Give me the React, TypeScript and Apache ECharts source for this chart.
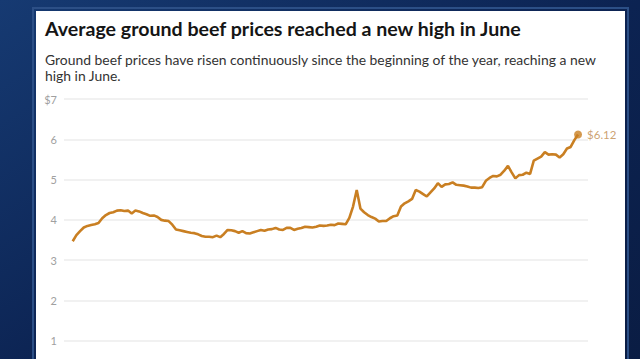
import React, { useEffect, useRef } from "react";
import * as echarts from "echarts";

// Average price of ground beef (USD per lb), monthly from Jan 2014 to Jun 2025
const startYear = 2014;
const prices = [
  3.47, 3.62, 3.72, 3.81, 3.85, 3.87, 3.89, 3.92, 4.04, 4.12, 4.17, 4.19,
  4.23, 4.24, 4.22, 4.23, 4.16, 4.23, 4.21, 4.17, 4.14, 4.10, 4.11, 4.07,
  4.00, 3.98, 3.97, 3.88, 3.76, 3.74, 3.72, 3.70, 3.68, 3.67, 3.64, 3.60,
  3.58, 3.58, 3.57, 3.61, 3.57, 3.65, 3.75, 3.74, 3.72, 3.68, 3.72, 3.67,
  3.66, 3.69, 3.72, 3.75, 3.73, 3.76, 3.77, 3.80, 3.76, 3.75, 3.80, 3.80,
  3.75, 3.78, 3.80, 3.83, 3.82, 3.81, 3.83, 3.86, 3.85, 3.86, 3.88, 3.87,
  3.91, 3.90, 3.89, 4.05, 4.33, 4.74, 4.28, 4.19, 4.12, 4.07, 4.03, 3.96,
  3.97, 3.97, 4.04, 4.09, 4.11, 4.33, 4.41, 4.46, 4.52, 4.74, 4.70, 4.64,
  4.58, 4.68, 4.78, 4.91, 4.82, 4.88, 4.89, 4.93, 4.87, 4.86, 4.85, 4.83,
  4.80, 4.80, 4.79, 4.81, 4.97, 5.04, 5.09, 5.08, 5.12, 5.22, 5.34, 5.18,
  5.03, 5.11, 5.12, 5.17, 5.14, 5.47, 5.52, 5.57, 5.68, 5.62, 5.63, 5.62,
  5.55, 5.63, 5.77, 5.81, 5.98, 6.12,
];
const monthNames = ["Jan", "Feb", "Mar", "Apr", "May", "Jun", "Jul", "Aug", "Sep", "Oct", "Nov", "Dec"];
const months = prices.map((_, i) => `${monthNames[i % 12]} ${startYear + Math.floor(i / 12)}`);
const yTickLabels = ["", "1", "2", "3", "4", "5", "6", "$7"];

const TITLE = "Average ground beef prices reached a new high in June";
const SUBTITLE =
  "Ground beef prices have risen continuously since the beginning of the year, reaching a new\nhigh in June.";

export default function App() {
  const ref = useRef<HTMLDivElement>(null);
  useEffect(() => {
    if (!ref.current) return;
    const chart = echarts.init(ref.current, undefined, { renderer: "svg" });
    const lineData = prices.map((v, i) => [i, v]);
    const last = prices.length - 1;
    chart.setOption({
      animation: false,
      backgroundColor: {
        type: "linear",
        x: 0,
        y: 0,
        x2: 1,
        y2: 1,
        colorStops: [
          { offset: 0, color: "#163a72" },
          { offset: 0.5, color: "#0c2352" },
          { offset: 1, color: "#0a1c42" },
        ],
      },
      graphic: [
        {
          type: "rect",
          shape: { x: 33, y: 8, width: 595, height: 420 },
          style: { fill: "none", stroke: "#2c4f86", lineWidth: 2 },
          z: 0,
        },
        {
          type: "rect",
          shape: { x: 36, y: 11, width: 589, height: 420 },
          style: { fill: "#ffffff" },
          z: 0,
        },
      ],
      title: {
        text: TITLE,
        subtext: SUBTITLE,
        left: 45,
        top: 17,
        padding: 0,
        itemGap: 12,
        textStyle: {
          fontFamily: "Lato",
          fontWeight: "bold",
          fontSize: 19.6,
          lineHeight: 22,
          color: "#151515",
        },
        subtextStyle: {
          fontFamily: "Lato",
          fontSize: 13.9,
          lineHeight: 16.5,
          color: "#333333",
        },
      },
      grid: { left: 64, right: 52, top: 99, bottom: 19 },
      xAxis: {
        type: "value",
        min: -2.36,
        max: 139.7,
        show: false,
        splitLine: { show: false },
      },
      yAxis: {
        type: "value",
        min: 0,
        max: 7,
        interval: 1,
        axisLine: { show: false },
        axisTick: { show: false },
        splitLine: { lineStyle: { color: "#ececec", width: 1.5 } },
        axisLabel: {
          margin: 7,
          color: "#a0a0a0",
          fontFamily: "Lato",
          fontSize: 11,
          formatter: (v: number) => yTickLabels[v] ?? String(v),
        },
      },
      tooltip: {
        trigger: "axis",
        formatter: (p: any) => `${months[p[0].data[0]]}: $${p[0].data[1].toFixed(2)}`,
      },
      series: [
        {
          type: "line",
          data: lineData,
          showSymbol: false,
          lineStyle: { color: "#c97f22", width: 2.6 },
          itemStyle: { color: "#c97f22" },
          z: 3,
        },
        {
          type: "scatter",
          data: [[last, prices[last]]],
          symbol: "circle",
          symbolSize: 8,
          itemStyle: { color: "#c97f22" },
          label: {
            show: true,
            position: "right",
            distance: 5,
            formatter: () => `$${prices[last].toFixed(2)}`,
            color: "#c08a4c",
            fontFamily: "Lato",
            fontSize: 11.5,
          },
          z: 4,
        },
      ],
    });
    return () => chart.dispose();
  }, []);
  return (
    <div style={{ position: "fixed", left: 0, top: 0, width: 640, height: 359, overflow: "hidden" }}>
      <div ref={ref} style={{ width: 640, height: 400 }} />
    </div>
  );
}
